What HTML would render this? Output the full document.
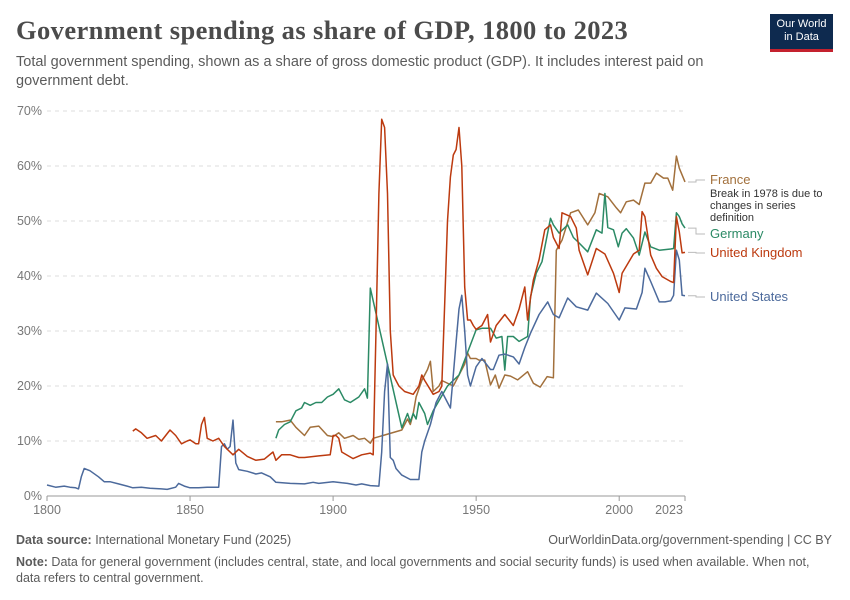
<!DOCTYPE html>
<html><head><meta charset="utf-8">
<style>
body{margin:0;background:#fff;font-family:"Liberation Sans",sans-serif;}
#wrap{position:relative;width:850px;height:600px;overflow:hidden;}
.t{position:absolute;white-space:nowrap;}
</style></head><body>
<div id="wrap">
<div class="t" style="left:16px;top:15px;font-family:'Liberation Serif',serif;font-size:26.5px;font-weight:bold;color:#4b4b4b;letter-spacing:0.4px;">Government spending as share of GDP, 1800 to 2023</div>
<div class="t" style="left:16px;top:53px;font-size:14.5px;color:#5b5b5b;line-height:19px;white-space:normal;width:720px;">Total government spending, shown as a share of gross domestic product (GDP). It includes interest paid on government debt.</div>
<div style="position:absolute;left:770px;top:14px;width:63px;height:38px;background:#0e2a4f;border-bottom:3px solid #c4212e;color:#fff;font-size:11px;line-height:13px;text-align:center;padding-top:4px;box-sizing:border-box;">Our World<br>in Data</div>
<svg id="chart" width="850" height="600" style="position:absolute;left:0;top:0;"></svg>
<div class="t" style="left:16px;top:533px;font-size:12.5px;color:#5b5b5b;"><b>Data source:</b> International Monetary Fund (2025)</div>
<div class="t" style="right:18px;top:533px;font-size:12.5px;color:#5b5b5b;">OurWorldinData.org/government-spending | CC BY</div>
<div class="t" style="left:16px;top:554px;font-size:12.5px;color:#5b5b5b;line-height:16px;white-space:normal;width:800px;"><b>Note:</b> Data for general government (includes central, state, and local governments and social security funds) is used when available. When not, data refers to central government.</div>
</div>
<script>
const yTicks=[0,10,20,30,40,50,60,70];
const xTicks=[1800,1850,1900,1950,2000,2023];
const usYears=[1800,1803,1806,1808,1810,1811,1812,1813,1815,1818,1820,1822,1825,1828,1830,1833,1836,1840,1842,1845,1846,1848,1850,1853,1856,1860,1861,1862,1863,1864,1865,1866,1867,1870,1873,1875,1878,1880,1885,1890,1893,1895,1900,1903,1905,1908,1910,1913,1916,1917,1918,1919,1920,1921,1922,1924,1927,1930,1931,1932,1934,1936,1938,1940,1941,1942,1943,1944,1945,1946,1947,1948,1950,1952,1955,1956,1958,1960,1963,1965,1967,1969,1972,1975,1977,1979,1982,1985,1989,1992,1996,2000,2002,2006,2008,2009,2011,2014,2016,2018,2019,2020,2021,2022,2023];
const usVals=[2,1.6,1.8,1.6,1.5,1.3,3.5,5,4.6,3.5,2.6,2.6,2.2,1.8,1.5,1.6,1.4,1.3,1.2,1.6,2.3,1.8,1.5,1.5,1.6,1.6,9,9.5,8.5,9,13.8,6,4.8,4.5,4,4.2,3.5,2.5,2.3,2.2,2.5,2.3,2.6,2.4,2.3,2,2.2,1.9,1.8,8,19,24,7,6.5,5,3.8,3,3,8,10,13,17,19,17,16,22,28,34,36.5,30,22,20,23.5,25,23,23,25.6,25.8,25.3,24,27,29.6,33,35.3,33,32.4,36,34.4,33.8,36.9,35,32,34.2,34,37,41.4,39,35.3,35.3,35.5,36.5,44.7,42.9,36.5,36.4];
const ukYears=[1830,1831,1833,1835,1838,1840,1843,1845,1847,1849,1850,1852,1853,1854,1855,1856,1858,1860,1862,1865,1867,1870,1873,1876,1879,1880,1882,1885,1888,1890,1895,1899,1900,1901,1902,1903,1907,1910,1913,1914,1915,1916,1917,1918,1919,1920,1921,1922,1923,1925,1928,1930,1931,1932,1935,1937,1938,1939,1940,1941,1942,1943,1944,1945,1946,1947,1948,1949,1950,1952,1954,1955,1957,1960,1963,1965,1967,1968,1969,1970,1972,1974,1976,1977,1979,1980,1983,1985,1986,1989,1992,1995,1998,2000,2001,2005,2007,2008,2009,2011,2013,2015,2018,2019,2020,2021,2022,2023];
const ukVals=[11.8,12.2,11.5,10.5,11,10,12,11,9.5,10,10.2,9.5,9.5,13,14.3,10.5,10,10.5,9,7.5,8.5,7.2,6.5,6.7,8,6.5,7.5,7.5,7,7,7.3,7.5,11,11,10.5,8,6.8,7.5,7.8,7.5,30,55,68.5,67,55,30,22,21,20,19,18.5,20,22,21,18.5,19,20,35,50,58,62,63,67,60,38,32,32,31,30.3,31,33,28,31,33,31,34,38,32,36,39.3,43,48.4,49.3,47,45,51.5,50.8,48.7,44.7,40.2,45,44,40.5,37,40.5,44,44.7,51.7,50.8,43.8,41.4,39.9,39,38.8,50.8,48,44.2,44.3];
const deYears=[1880,1881,1883,1885,1887,1889,1890,1892,1894,1896,1898,1900,1902,1904,1906,1909,1911,1912,1913,1924,1926,1927,1928,1929,1930,1932,1933,1935,1940,1944,1950,1952,1955,1957,1959,1960,1961,1963,1965,1968,1969,1971,1973,1976,1977,1979,1982,1984,1986,1989,1992,1994,1995,1996,1998,1999.7,2001,2002.5,2005,2007,2009,2011,2014,2018,2019,2020,2021,2022,2023];
const deVals=[10.5,12,13,13.5,15.5,16,17,16.5,17,17,18,18.5,19.5,17.5,17,18,19.5,17.8,37.8,12.4,15,13.5,15,14,17,15,13,15.5,20,22,30.2,30.5,30.5,28.7,29,22.9,29,29,28.1,29,36.2,40.5,42.6,50.5,49.3,47.8,49.3,47,46,44.4,48.4,47.8,55,48.8,48.4,45.3,47.8,48.6,46.9,43.8,48,45.3,44.7,44.9,45,51.5,50.8,49.5,48.7];
const frYears=[1880,1882,1885,1887,1890,1892,1895,1898,1900,1902,1904,1907,1909,1911,1913,1914,1924,1926,1927,1928,1929,1931,1933,1934,1935,1937,1938,1942,1944,1946,1947,1948,1950,1951,1953,1955,1956.7,1958,1960,1962,1964.5,1968,1970,1972.4,1974.8,1977,1978,1980,1983,1985.7,1989,1991.5,1993,1996,1999,2000.5,2002.5,2005,2007,2009,2011,2013,2015.5,2017,2018.7,2020,2021,2023];
const frVals=[13.5,13.5,13.8,12.5,11,12.5,12.7,11,10.8,11.5,10.5,11,10.3,10.5,9.6,10.5,12,14,13,15,18,21,23,24.5,19,20,21,20,22,24,26,25,25,24.7,24.7,20.2,22,19.6,22,21.8,21.1,22.6,20.5,19.8,21.7,21.5,44.7,46.5,51.5,52,49.3,51.5,55,54.4,52.4,51.5,53.5,53.8,53,56.9,56.9,58.7,57.8,57.8,55.6,61.8,59.6,57.1];

const NS="http://www.w3.org/2000/svg";
const svg=document.getElementById('chart');
const x0=47,x1=685,yr0=1800,yr1=2023,yb=496,yt=111,vmax=70;
function xs(y){return x0+(y-yr0)/(yr1-yr0)*(x1-x0);}
function ys(v){return yb-v/vmax*(yb-yt);}
function mk(tag,attrs){const e=document.createElementNS(NS,tag);for(const k in attrs)e.setAttribute(k,attrs[k]);svg.appendChild(e);return e;}
yTicks.forEach(v=>{
  if(v>0){const g=mk('line',{x1:x0,x2:x1,y1:ys(v),y2:ys(v),stroke:'#ddd','stroke-dasharray':'4,4'});
  
  }
  const t=mk('text',{x:42,y:ys(v)+4,'text-anchor':'end','font-size':'12.5',fill:'#777','font-family':'Liberation Sans'});
  
  
  t.textContent=v+'%';
});
const ax=mk('line',{x1:x0,x2:x1,y1:yb,y2:yb,stroke:'#999'});


xTicks.forEach(y=>{
  const tk=mk('line',{x1:xs(y),x2:xs(y),y1:yb,y2:yb+5,stroke:'#999'});
  
  
  const t=mk('text',{x:y===2023?xs(y)-16:xs(y),y:yb+18,'text-anchor':'middle','font-size':'12.5',fill:'#777','font-family':'Liberation Sans'});
  
  
  t.textContent=y;
});
function series(years,vals,color,name){
  let d='';years.forEach((y,i)=>{d+=(i?'L':'M')+xs(y).toFixed(1)+','+ys(vals[i]).toFixed(1);});
  const p=mk('path',{d:d,fill:'none',stroke:color,'stroke-width':1.5,'stroke-linejoin':'round'});
  
  
}
series(frYears,frVals,'#a2703c','line-france');
series(deYears,deVals,'#2b8a65','line-germany');
series(usYears,usVals,'#4c6a9c','line-united-states');
series(ukYears,ukVals,'#bc3a0f','line-united-kingdom');
function label(txt,y,color,endV,name){
  const ey=ys(endV);
  const c=mk('path',{d:`M688,${ey} H696 V${y-4} H705`,fill:'none',stroke:'#bbb'});
  
  
  const t=mk('text',{x:710,y:y,'font-size':'13',fill:color,'font-family':'Liberation Sans'});
  
  
  t.textContent=txt;
}
label('France',184,'#a2703c',frVals[frVals.length-1],'france');
label('Germany',238,'#2b8a65',deVals[deVals.length-1],'germany');
label('United Kingdom',257,'#bc3a0f',ukVals[ukVals.length-1],'united-kingdom');
label('United States',301,'#4c6a9c',usVals[usVals.length-1],'united-states');
['Break in 1978 is due to','changes in series','definition'].forEach((s,i)=>{
  const t=mk('text',{x:710,y:197+i*12,'font-size':'11',fill:'#333','font-family':'Liberation Sans'});
  
  
  t.textContent=s;
});
</script>
</body></html>
